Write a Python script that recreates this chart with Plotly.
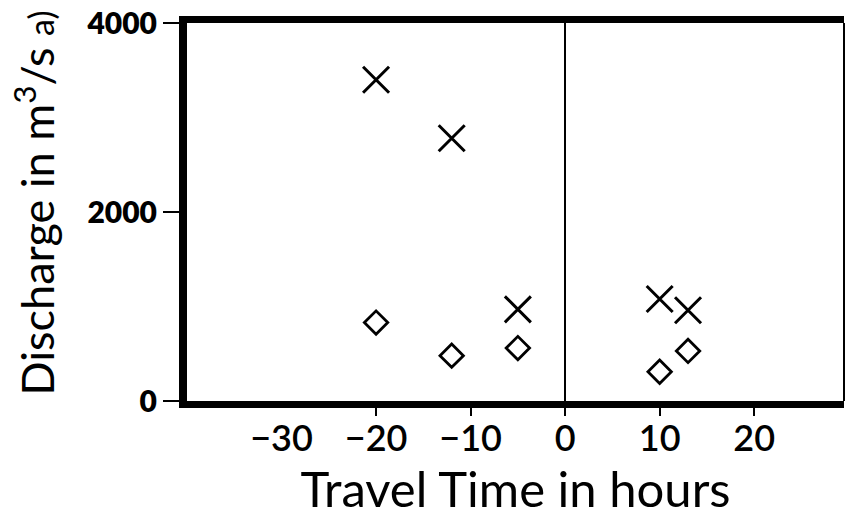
import plotly.graph_objects as go

# Data
travel_time_x = [-20, -12, -5, 10, 13]
discharge_x = [3400, 2780, 970, 1080, 960]
travel_time_d = [-20, -12, -5, 10, 13]
discharge_d = [830, 480, 560, 310, 530]

xtick_vals = [-30, -20, -10, 0, 10, 20]
xtick_text = ["\u221230", "\u221220", "\u221210", "0", "10", "20"]
xtickmark_vals = [-20, -10, 0, 10, 20]
ytick_vals = [0, 2000, 4000]
ytick_text = ["0", "2000", "4000"]

FONT = "Lato"

fig = go.Figure()
fig.add_trace(go.Scatter(
    x=travel_time_x, y=discharge_x, mode="markers",
    marker=dict(symbol="x-thin-open", size=26, color="black",
                line=dict(width=3, color="black")),
    showlegend=False, hoverinfo="skip"))
fig.add_trace(go.Scatter(
    x=travel_time_d, y=discharge_d, mode="markers",
    marker=dict(symbol="diamond-open", size=18, color="black",
                line=dict(width=2.8, color="black")),
    showlegend=False, hoverinfo="skip"))

fig.update_layout(
    width=846, height=519,
    margin=dict(l=187, r=2, t=23, b=118),
    paper_bgcolor="white", plot_bgcolor="white",
    font=dict(family=FONT, color="black"),
    xaxis=dict(
        range=[-40, 29.5], showgrid=False,
        zeroline=True, zerolinecolor="black", zerolinewidth=2,
        showline=True, linecolor="black", linewidth=7, mirror=True,
        tickmode="array", tickvals=xtick_vals, ticktext=xtick_text,
        ticks="", ticklabelstandoff=0,
        tickfont=dict(family=FONT, size=36, weight=600, color="black"),
        title=dict(text="Travel Time in hours", standoff=4,
                   font=dict(family=FONT, size=49, color="black")),
    ),
    xaxis2=dict(
        range=[-40, 29.5], overlaying="x", anchor="y", side="bottom",
        showgrid=False, zeroline=False, showline=False,
        tickmode="array", tickvals=xtickmark_vals,
        ticks="outside", ticklen=14, tickwidth=2, tickcolor="black",
        showticklabels=False,
    ),
    yaxis=dict(
        range=[0, 4000], showgrid=False, zeroline=False,
        showline=True, linecolor="black", linewidth=8,
        tickmode="array", tickvals=ytick_vals, ticktext=ytick_text,
        ticks="outside", ticklen=16, tickwidth=2, tickcolor="black",
        tickfont=dict(family=FONT, size=30, weight=800, color="black"),
    ),
    shapes=[dict(type="line", xref="paper", yref="paper",
                 x0=1, x1=1, y0=0, y1=1,
                 line=dict(color="black", width=2))],
    annotations=[dict(
        text="Discharge in m<sup>3</sup>/s <span style=\"font-size:34px\">a)</span>",
        textangle=-90, xref="paper", yref="paper",
        x=(34 - 187) / 657, y=(401 - 398) / 378,
        xanchor="center", yanchor="bottom", showarrow=False,
        font=dict(family=FONT, size=45, color="black"))],
)
# invisible trace to activate xaxis2 tick marks
fig.add_trace(go.Scatter(x=[None], y=[None], xaxis="x2", showlegend=False,
                         hoverinfo="skip"))

fig.write_html("out.html")
